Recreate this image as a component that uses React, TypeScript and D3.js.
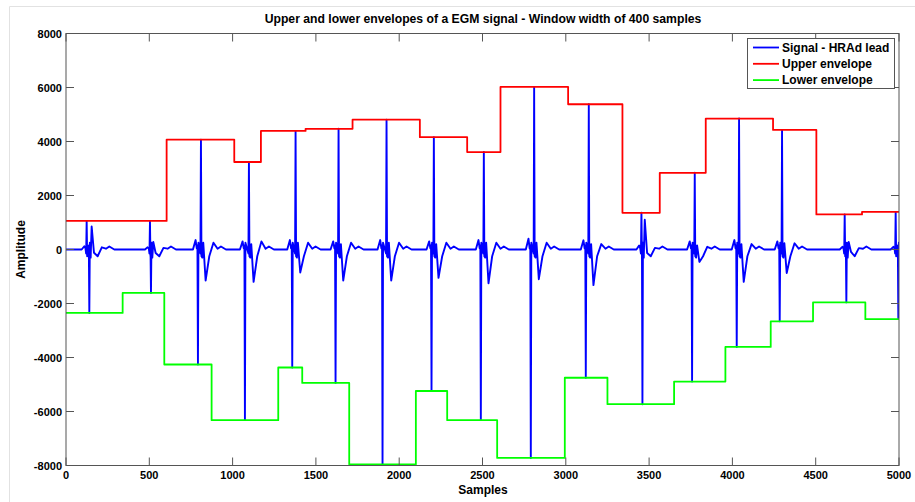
import React from "react";
import * as d3 from "d3";

// Axis ticks
const xTicks = [0, 500, 1000, 1500, 2000, 2500, 3000, 3500, 4000, 4500, 5000];
const yTicks = [-8000, -6000, -4000, -2000, 0, 2000, 4000, 6000, 8000];

// Upper envelope: step edges (samples) and the level held between them
const upperEdges = [0, 604, 1010, 1170, 1438, 1720, 2124, 2408, 2608, 3014, 3340, 3564, 3840, 4244, 4504, 4778, 5000];
const upperLevels = [1060, 4070, 3240, 4390, 4470, 4810, 4160, 3610, 6020, 5380, 1360, 2840, 4850, 4430, 1300, 1390];

// Lower envelope
const lowerEdges = [0, 340, 590, 874, 1274, 1418, 1700, 2100, 2288, 2588, 2994, 3250, 3650, 3958, 4230, 4484, 4798, 5000];
const lowerLevels = [-2350, -1610, -4260, -6320, -4370, -4940, -7960, -5240, -6320, -7720, -4750, -5730, -4890, -3610, -2660, -1960, -2580];

// EGM beats: sample of the positive and negative spike, their amplitudes,
// and the shape of the repolarisation that follows each complex
const beatUpAt = [124, 504, 810, 1098, 1378, 1636, 1924, 2208, 2508, 2810, 3138, 3454, 3774, 4040, 4298, 4674, 4980];
const beatDownAt = [140, 510, 792, 1074, 1358, 1618, 1900, 2194, 2490, 2790, 3120, 3460, 3758, 4026, 4284, 4684, 4996];
const beatMax = [1060, 1040, 4070, 3240, 4390, 4470, 4810, 4160, 3610, 6020, 5380, 1360, 2840, 4850, 4430, 1300, 1390];
const beatMin = [-2350, -1610, -4260, -6320, -4370, -4940, -7960, -5240, -6320, -7720, -4750, -5730, -4890, -3610, -2660, -1960, -2580];
const beatPre = [120, 80, 350, 300, 350, 300, 350, 300, 350, 400, 340, 150, 300, 350, 300, 100, 100];
const beatHump = [850, 280, 250, 200, 250, 200, 250, 200, 250, 250, 200, 1100, 150, 200, 230, 280, 300];
const beatDip = [-120, -130, -1150, -1200, -850, -1150, -1150, -1050, -1250, -1100, -1320, -130, -460, -1200, -870, -90, -300];
const beatT = [80, 60, 250, 300, 250, 250, 250, 250, 250, 250, 200, 60, 100, 200, 230, 50, 0];

const W = 915;
const H = 502;
const left = 66;
const right = 899;
const top = 33.5;
const bottom = 465.5;

const x = d3.scaleLinear().domain([0, 5000]).range([left, right]);
const y = d3.scaleLinear().domain([-8000, 8000]).range([bottom, top]);

function signalPoints(): [number, number][] {
  const pts: [number, number][] = [[0, 0]];
  beatUpAt.forEach((up, i) => {
    const dn = beatDownAt[i];
    const first = Math.min(up, dn);
    const last = Math.max(up, dn);
    pts.push([first - 30, 0], [first - 14, beatPre[i]], [first - 7, 40]);
    const spikes: [number, number][] = [
      [up, beatMax[i]],
      [dn, beatMin[i]],
    ].sort((a, b) => a[0] - b[0]) as [number, number][];
    spikes.forEach(([s, v]) => {
      pts.push([s - 3, v > 0 ? -150 : 150], [s, v], [s + 3, v > 0 ? -250 : 250]);
    });
    pts.push(
      [last + 8, -300],
      [last + 14, beatHump[i]],
      [last + 28, beatDip[i]],
      [last + 50, -250],
      [last + 75, beatT[i]],
      [last + 100, 30],
      [last + 120, 110],
      [last + 150, 0]
    );
  });
  pts.push([5000, 0]);
  return pts.filter((p) => p[0] >= 0 && p[0] <= 5000);
}

function stepPoints(edges: number[], levels: number[]): [number, number][] {
  const pts: [number, number][] = [];
  levels.forEach((v, i) => {
    pts.push([edges[i], v], [edges[i + 1], v]);
  });
  return pts;
}

const line = d3
  .line<[number, number]>()
  .x((d) => x(d[0]))
  .y((d) => y(d[1]));

const FONT = "'Liberation Sans', Arial, Helvetica, sans-serif";
const AXIS = "#555";

export default function App() {
  const sig = line(signalPoints()) || "";
  const up = line(stepPoints(upperEdges, upperLevels)) || "";
  const lo = line(stepPoints(lowerEdges, lowerLevels)) || "";
  const tick = 8;
  const legend = [
    { label: "Signal - HRAd lead", color: "#0000ff" },
    { label: "Upper envelope", color: "#ff0000" },
    { label: "Lower envelope", color: "#00ff00" },
  ];
  return (
    <div style={{ position: "fixed", left: 0, top: 0 }}>
      <svg width={W} height={H} style={{ display: "block", background: "#fff" }} fontFamily={FONT}>
        <defs>
          <clipPath id="plot">
            <rect x={left} y={top - 1} width={right - left} height={bottom - top + 2} />
          </clipPath>
        </defs>
        <line x1={9.5} y1={6.5} x2={W} y2={6.5} stroke="#e2e2e2" />
        <line x1={9.5} y1={6.5} x2={9.5} y2={H} stroke="#e2e2e2" />

        <text x={483} y={23} textAnchor="middle" fontSize={12.2} fontWeight="bold">
          Upper and lower envelopes of a EGM signal - Window width of 400 samples
        </text>

        <g clipPath="url(#plot)" fill="none" strokeLinejoin="round">
          <path d={sig} stroke="#0000ff" strokeWidth={1.9} />
          <path d={up} stroke="#ff0000" strokeWidth={1.8} />
          <path d={lo} stroke="#00ff00" strokeWidth={1.8} />
        </g>

        <rect x={left} y={top} width={right - left} height={bottom - top} fill="none" stroke={AXIS} strokeWidth={1} />
        {xTicks.map((t) => (
          <g key={"x" + t}>
            <line x1={x(t)} x2={x(t)} y1={bottom} y2={bottom - tick} stroke={AXIS} />
            <line x1={x(t)} x2={x(t)} y1={top} y2={top + tick} stroke={AXIS} />
            <text x={x(t)} y={479} textAnchor="middle" fontSize={11} fontWeight="bold">
              {t}
            </text>
          </g>
        ))}
        {yTicks.map((t) => (
          <g key={"y" + t}>
            <line x1={left} x2={left + tick} y1={y(t)} y2={y(t)} stroke={AXIS} />
            <line x1={right} x2={right - tick} y1={y(t)} y2={y(t)} stroke={AXIS} />
            <text x={62} y={y(t) + 4} textAnchor="end" fontSize={11} fontWeight="bold">
              {t}
            </text>
          </g>
        ))}

        <text x={483} y={494} textAnchor="middle" fontSize={12} fontWeight="bold">
          Samples
        </text>
        <text
          transform={`translate(25,${y(0)}) rotate(-90)`}
          textAnchor="middle"
          fontSize={12}
          fontWeight="bold"
        >
          Amplitude
        </text>

        <g>
          <rect x={747.5} y={38.5} width={147} height={50} fill="#fff" stroke={AXIS} />
          {legend.map((d, i) => (
            <g key={d.label} transform={`translate(0,${47.5 + i * 16.3})`}>
              <line x1={753} x2={779} y1={0} y2={0} stroke={d.color} strokeWidth={1.8} />
              <text x={782} y={4.3} fontSize={12} fontWeight="bold">
                {d.label}
              </text>
            </g>
          ))}
        </g>
      </svg>
    </div>
  );
}
